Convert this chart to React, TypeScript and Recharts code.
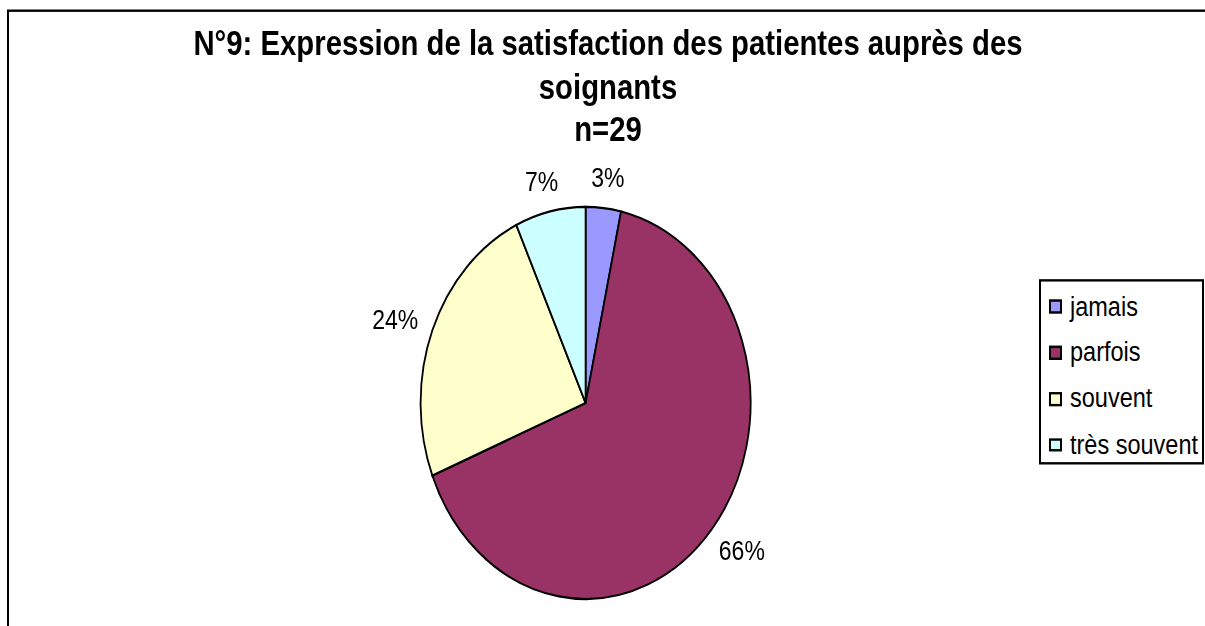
import React from 'react';
import { PieChart, Pie, Cell, Legend } from 'recharts';

const categories = ['jamais', 'parfois', 'souvent', 'très souvent'];
const counts = [1, 19, 7, 2];
const colors = ['#9999FF', '#993366', '#FFFFCC', '#CCFFFF'];
const titleLines = ['N°9: Expression de la satisfaction des patientes auprès des', 'soignants', 'n=29'];

const data = categories.map((name, i) => ({ name, value: counts[i] }));

const W = 1205;
const K = 1.188; // vertical stretch of the original picture
const H = 626 / K;
const FONT = '"Liberation Sans", Arial, sans-serif';
const RAD = Math.PI / 180;

const renderLabel = (props: any) => {
  const { cx, cy, midAngle, outerRadius, percent } = props;
  const x = cx + (outerRadius + 40) * Math.cos(-midAngle * RAD);
  const y = cy + (outerRadius + 26) * Math.sin(-midAngle * RAD);
  return (
    <text x={x} y={y} textAnchor="middle" dominantBaseline="central" fontFamily={FONT} fontSize={23} fill="#000">
      {`${Math.round(percent * 100)}%`}
    </text>
  );
};

const renderLegend = (props: any) => {
  const { payload } = props;
  return (
    <div
      style={{
        boxSizing: 'border-box',
        width: 165,
        height: 156.6,
        border: '2px solid #000',
        background: '#fff',
        paddingTop: 2,
        fontFamily: FONT,
        fontSize: 23.5,
        color: '#000',
      }}
    >
      {(payload || []).map((entry: any, i: number) => (
        <div key={i} style={{ height: 38.8, display: 'flex', alignItems: 'center', whiteSpace: 'nowrap' }}>
          <span
            style={{
              display: 'inline-block',
              boxSizing: 'border-box',
              width: 13,
              height: 11.5,
              marginLeft: 8,
              marginRight: 8,
              background: entry.color,
              border: '2px solid #000',
            }}
          />
          <span>{entry.value}</span>
        </div>
      ))}
    </div>
  );
};

export default function App() {
  return (
    <div style={{ position: 'absolute', left: 0, top: 0, width: W, height: 626, overflow: 'hidden', background: '#fff' }}>
      <div
        style={{
          position: 'absolute',
          left: 0,
          top: 0,
          width: W,
          height: H,
          transform: `scaleY(${K})`,
          transformOrigin: '0 0',
        }}
      >
        <div
          style={{
            position: 'absolute',
            left: 7,
            top: 8.4,
            width: 1300,
            height: 1000,
            border: '2px solid #000',
            boxSizing: 'border-box',
          }}
        />
        <div
          style={{
            position: 'absolute',
            left: 108,
            top: 18.3,
            width: 1000,
            textAlign: 'center',
            fontFamily: FONT,
            fontWeight: 'bold',
            fontSize: 29.3,
            lineHeight: '36.6px',
            color: '#000',
            whiteSpace: 'nowrap',
          }}
        >
          {titleLines.map((t, i) => (
            <div key={i}>{t}</div>
          ))}
        </div>
        <div style={{ position: 'absolute', left: 0, top: 0 }}>
          <PieChart width={W} height={H} margin={{ top: 0, right: 0, bottom: 0, left: 0 }}>
            <Pie
              data={data}
              dataKey="value"
              nameKey="name"
              cx={585.6}
              cy={339.2}
              outerRadius={165}
              startAngle={90}
              endAngle={-270}
              stroke="#000"
              strokeWidth={1.8}
              label={renderLabel}
              labelLine={false}
              isAnimationActive={false}
            >
              {data.map((d, i) => (
                <Cell key={d.name} fill={colors[i]} />
              ))}
            </Pie>
            <Legend
              content={renderLegend}
              wrapperStyle={{ position: 'absolute', left: 1039, top: 234.8, width: 165, height: 156.6, bottom: 'auto', right: 'auto' }}
            />
          </PieChart>
        </div>
      </div>
    </div>
  );
}
